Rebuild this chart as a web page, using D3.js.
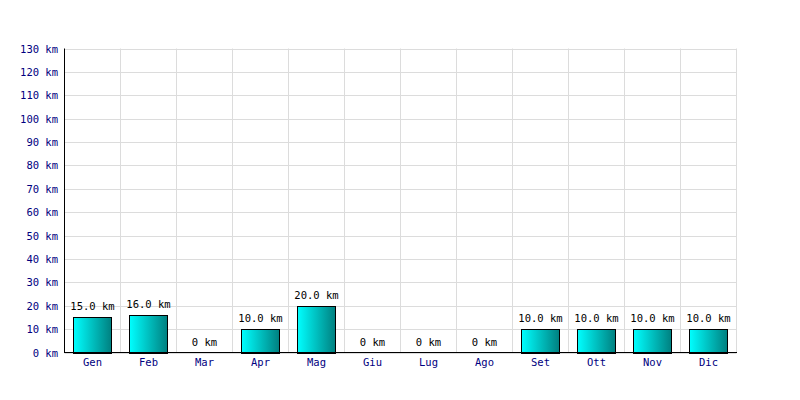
<!DOCTYPE html>
<html><head><meta charset="utf-8">
<script src="https://cdn.jsdelivr.net/npm/d3@7"></script>
<style>body{margin:0;background:#fff}</style>
</head><body>
<svg id="c" width="800" height="400"></svg>
<script>
const months = ["Gen","Feb","Mar","Apr","Mag","Giu","Lug","Ago","Set","Ott","Nov","Dic"];
const km = [15,16,0,10,20,0,0,0,10,10,10,10];
const yTicks = [0,10,20,30,40,50,60,70,80,90,100,110,120,130];

const svg = d3.select("#c");
const m = {l:64.5, r:736.5, t:48.5, b:352.5};
const font = "'DejaVu Sans Mono',monospace";

const x = d3.scaleBand().domain(months).range([m.l, m.r]).paddingInner(0).paddingOuter(0);
const y = d3.scaleLinear().domain([0,130]).range([m.b, m.t]);

const defs = svg.append("defs");
const g = defs.append("linearGradient").attr("id","bg").attr("x1","0").attr("x2","1").attr("y1","0").attr("y2","0");
g.append("stop").attr("offset","0%").attr("stop-color","#00ffff");
g.append("stop").attr("offset","100%").attr("stop-color","#008080");

svg.append("g").selectAll("line").data(yTicks).join("line")
  .attr("x1", m.l).attr("x2", m.r)
  .attr("y1", d => Math.round(y(d))+0.5).attr("y2", d => Math.round(y(d))+0.5)
  .attr("stroke","#dcdcdc").attr("stroke-width",1);
svg.append("g").selectAll("line").data(months).join("line")
  .attr("x1", d => x(d)+x.bandwidth()).attr("x2", d => x(d)+x.bandwidth())
  .attr("y1", m.t).attr("y2", m.b)
  .attr("stroke","#dcdcdc").attr("stroke-width",1);

const bw = x.bandwidth()*0.68;
svg.append("g").selectAll("rect").data(months.map((mo,i)=>({mo,v:km[i]})).filter(d=>d.v>0)).join("rect")
  .attr("x", d => Math.round(x(d.mo)+(x.bandwidth()-bw)/2)+0.5)
  .attr("width", Math.round(bw))
  .attr("y", d => Math.round(y(d.v))+0.5)
  .attr("height", d => Math.round(y(0)) - Math.round(y(d.v)))
  .attr("fill","url(#bg)").attr("stroke","#000").attr("stroke-width",1);

svg.append("g").selectAll("text").data(months.map((mo,i)=>({mo,v:km[i]}))).join("text")
  .attr("x", d => x(d.mo)+x.bandwidth()/2)
  .attr("y", d => y(d.v) - 7)
  .attr("text-anchor","middle")
  .attr("font-family",font).attr("font-size","10.5px").attr("fill","#000")
  .text(d => d.v===0 ? "0 km" : d.v.toFixed(1)+" km");

svg.append("line").attr("x1",m.l).attr("x2",m.l).attr("y1",m.t).attr("y2",m.b+0.5).attr("stroke","#000");
svg.append("line").attr("x1",m.l).attr("x2",m.r+0.5).attr("y1",m.b).attr("y2",m.b).attr("stroke","#000");

svg.append("g").selectAll("text").data(yTicks).join("text")
  .attr("x", 58).attr("y", d => y(d)+4)
  .attr("text-anchor","end")
  .attr("font-family",font).attr("font-size","10.5px").attr("fill","#000080")
  .text(d => d+" km");

svg.append("g").selectAll("text").data(months).join("text")
  .attr("x", d => x(d)+x.bandwidth()/2).attr("y", 366)
  .attr("text-anchor","middle")
  .attr("font-family",font).attr("font-size","10.5px").attr("fill","#000080")
  .text(d => d);
</script>
</body></html>
